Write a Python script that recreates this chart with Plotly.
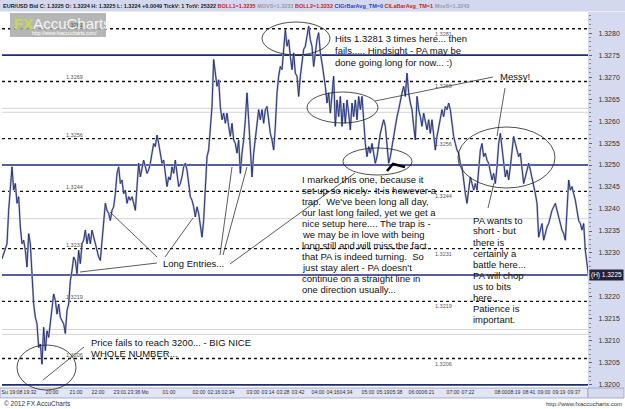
import plotly.graph_objects as go

# ---------------- data ----------------
price = [
    1.32287, 1.32298, 1.32310, 1.32321, 1.32397, 1.32458, 1.32496, 1.32443, 1.32458, 1.32413,
    1.32428, 1.32359, 1.32321, 1.32329, 1.32306, 1.32268, 1.32344, 1.32321, 1.32260, 1.32184,
    1.32154, 1.32139, 1.32085, 1.32093, 1.32047, 1.32131, 1.32078, 1.32123, 1.32108, 1.32146,
    1.32169, 1.32207, 1.32192, 1.32161, 1.32184, 1.32154, 1.32146, 1.32139, 1.32117, 1.32169,
    1.32184, 1.32237, 1.32260, 1.32291, 1.32283, 1.32253, 1.32306, 1.32276, 1.32321, 1.32329,
    1.32352, 1.32321, 1.32344, 1.32321, 1.32352, 1.32336, 1.32321, 1.32306, 1.32291, 1.32283,
    1.32329, 1.32367, 1.32413, 1.32397, 1.32390, 1.32374, 1.32397, 1.32405, 1.32435, 1.32481,
    1.32496, 1.32458, 1.32466, 1.32435, 1.32443, 1.32413, 1.32428, 1.32420, 1.32428, 1.32413,
    1.32397, 1.32451, 1.32504, 1.32473, 1.32489, 1.32511, 1.32496, 1.32481, 1.32489, 1.32504,
    1.32527, 1.32549, 1.32542, 1.32568, 1.32549, 1.32527, 1.32504, 1.32511, 1.32481, 1.32451,
    1.32473, 1.32466, 1.32496, 1.32481, 1.32511, 1.32473, 1.32451, 1.32458, 1.32473, 1.32496,
    1.32504, 1.32489, 1.32451, 1.32428, 1.32420, 1.32405, 1.32382, 1.32405, 1.32390, 1.32367,
    1.32336, 1.32374, 1.32435, 1.32519, 1.32534, 1.32580, 1.32633, 1.32740, 1.32702, 1.32679,
    1.32694, 1.32633, 1.32603, 1.32618, 1.32595, 1.32618, 1.32588, 1.32565, 1.32595, 1.32557,
    1.32549, 1.32527, 1.32557, 1.32481, 1.32527, 1.32557, 1.32603, 1.32664, 1.32603, 1.32549,
    1.32473, 1.32527, 1.32565, 1.32595, 1.32626, 1.32603, 1.32626, 1.32595, 1.32626, 1.32633,
    1.32595, 1.32572, 1.32557, 1.32534, 1.32588, 1.32664, 1.32702, 1.32724, 1.32717, 1.32755,
    1.32808, 1.32770, 1.32785, 1.32747, 1.32717, 1.32755, 1.32709, 1.32702, 1.32656, 1.32702,
    1.32740, 1.32763, 1.32770, 1.32793, 1.32816, 1.32785, 1.32770, 1.32724, 1.32755, 1.32785,
    1.32801, 1.32755, 1.32732, 1.32709, 1.32679, 1.32641, 1.32664, 1.32618, 1.32671, 1.32702,
    1.32588, 1.32648, 1.32610, 1.32656, 1.32588, 1.32641, 1.32595, 1.32648, 1.32618, 1.32580,
    1.32641, 1.32610, 1.32648, 1.32603, 1.32656, 1.32626, 1.32656, 1.32595, 1.32549, 1.32519,
    1.32542, 1.32527, 1.32549, 1.32527, 1.32504, 1.32519, 1.32549, 1.32572, 1.32588, 1.32603,
    1.32588, 1.32549, 1.32504, 1.32519, 1.32542, 1.32565, 1.32595, 1.32610, 1.32626, 1.32648,
    1.32664, 1.32679, 1.32656, 1.32709, 1.32664, 1.32641, 1.32626, 1.32588, 1.32557, 1.32656,
    1.32626, 1.32610, 1.32588, 1.32618, 1.32595, 1.32580, 1.32603, 1.32572, 1.32603, 1.32572,
    1.32534, 1.32565, 1.32588, 1.32603, 1.32626, 1.32610, 1.32633, 1.32626, 1.32641, 1.32626,
    1.32595, 1.32565, 1.32549, 1.32534, 1.32527, 1.32504, 1.32496, 1.32458, 1.32435, 1.32413,
    1.32451, 1.32473, 1.32458, 1.32443, 1.32458, 1.32443, 1.32489, 1.32534, 1.32549, 1.32519,
    1.32527, 1.32511, 1.32504, 1.32481, 1.32466, 1.32481, 1.32458, 1.32496, 1.32549, 1.32572,
    1.32534, 1.32504, 1.32473, 1.32489, 1.32466, 1.32496, 1.32527, 1.32565, 1.32549, 1.32534,
    1.32519, 1.32527, 1.32496, 1.32458, 1.32473, 1.32489, 1.32504, 1.32489, 1.32473, 1.32458,
    1.32435, 1.32413, 1.32336, 1.32352, 1.32367, 1.32329, 1.32344, 1.32359, 1.32367, 1.32382,
    1.32397, 1.32405, 1.32413, 1.32397, 1.32382, 1.32367, 1.32352, 1.32344, 1.32329, 1.32397,
    1.32466, 1.32443, 1.32451, 1.32435, 1.32420, 1.32397, 1.32374, 1.32367, 1.32352, 1.32367,
    1.32306, 1.32276, 1.32245,
]
bars = list(range(len(price)))

xtick_labels = ["Su 19:08", "19:32", "20:00", "21:00", "22:00", "23:01", "23:36", "Mo",
                "01:00", "02:00", "02:16", "02:34", "03:00", "03:14", "03:28", "03:42",
                "04:00", "04:16", "04:34", "05:00", "05:19", "05:38", "06:00", "06:21",
                "07:00", "07:22", "08:00", "08:19", "08:41", "09:00", "09:19", "09:37"]
xtick_bars = [6, 16.8, 30, 44.4, 57.6, 70.8, 79.2, 85.8, 100.2, 118.2, 127.2, 135.6,
              150.6, 159.6, 168.6, 177.6, 189.6, 198.6, 206.4, 219.6, 228.6, 236.4,
              247.8, 255.6, 270.6, 279.6, 299.4, 307.2, 316.2, 325.2, 334.2, 343.2]

ytick_vals = [1.3200, 1.3205, 1.3210, 1.3215, 1.3220, 1.3230, 1.3235, 1.3240,
              1.3245, 1.3250, 1.3255, 1.3260, 1.3265, 1.3270, 1.3275, 1.3280]

solid_levels = [1.3275, 1.3250, 1.3225, 1.3200]
dotted_levels = [1.3281, 1.3269, 1.3256, 1.3244, 1.3231, 1.3219, 1.3206]
band_levels = [1.32629, 1.32620, 1.32378, 1.32126, 1.32115]
last_price = 1.3225

# ---------------- layout helpers (pixel -> paper) ----------------
W, H = 625, 409
L, R, T, B = 2, 588, 12, 388


def PX(x):
    return (x - L) / (R - L)


def PY(y):
    return (B - y) / (B - T)


FONT = "Liberation Sans, Arial, sans-serif"
NAVY = "#1c2a78"

fig = go.Figure()
fig.add_trace(go.Scatter(x=bars, y=price, mode="lines",
                         line=dict(color="#aeb3c8", width=2.0), hoverinfo="skip"))
fig.add_trace(go.Scatter(x=bars, y=price, mode="lines",
                         line=dict(color=NAVY, width=0.9), hoverinfo="skip"))

shapes = []
ann = []

# backgrounds
shapes.append(dict(type="rect", xref="paper", yref="paper", x0=PX(0), x1=PX(W), y0=PY(11.5), y1=PY(0),
                   fillcolor="#d3d8ee", line=dict(width=0), layer="below"))
shapes.append(dict(type="rect", xref="paper", yref="paper", x0=PX(R), x1=PX(W), y0=PY(B), y1=PY(T),
                   fillcolor="#d6daf0", line=dict(width=0), layer="below"))
shapes.append(dict(type="rect", xref="paper", yref="paper", x0=PX(0), x1=PX(R), y0=PY(398), y1=PY(B),
                   fillcolor="#e2e5f2", line=dict(color="#9aa0bc", width=0.8), layer="below"))
shapes.append(dict(type="rect", xref="paper", yref="paper", x0=PX(R), x1=PX(W - 1), y0=PY(398), y1=PY(B),
                   fillcolor="#d6daf0", line=dict(color="#9aa0bc", width=0.8), layer="below"))

# level lines
for lv in band_levels:
    shapes.append(dict(type="line", xref="paper", yref="y", x0=0, x1=1, y0=lv, y1=lv,
                       line=dict(color="#d4d4d4", width=1), layer="below"))
for lv in dotted_levels:
    shapes.append(dict(type="line", xref="paper", yref="y", x0=0, x1=1, y0=lv, y1=lv,
                       line=dict(color="#111111", width=1.4, dash="dot"), layer="below"))
for lv in solid_levels:
    shapes.append(dict(type="line", xref="paper", yref="y", x0=0, x1=1, y0=lv, y1=lv,
                       line=dict(color=NAVY, width=1.6), layer="below"))

# level labels
for lv in dotted_levels:
    ann.append(dict(x=PX(64), xref="paper", y=lv, yref="y", yshift=4, text=f"{lv:.4f}",
                    showarrow=False, font=dict(size=5.5, color="#555", family=FONT)))
    ann.append(dict(x=PX(454), xref="paper", y=lv, yref="y", yshift=-5, text=f"{lv:.4f}",
                    showarrow=False, font=dict(size=5.5, color="#555", family=FONT)))

# ellipses
for (x0, y0, x1, y1) in [(262, 22, 330, 55), (307, 92, 378, 123), (343, 148, 412, 175),
                         (458, 127, 555, 188), (17, 345, 76, 390)]:
    shapes.append(dict(type="circle", xref="paper", yref="paper", x0=PX(x0), x1=PX(x1),
                       y0=PY(y1), y1=PY(y0), line=dict(color="#222", width=0.8)))

# pointer lines
for (x0, y0, x1, y1) in [(375, 101, 493, 77), (505, 88, 497, 136), (488, 208, 494, 183),
                         (157, 257, 110, 212), (165, 257, 193, 218), (80, 272, 157, 263),
                         (220, 255, 232, 167), (223, 255, 247, 167), (230, 264, 355, 173),
                         (43, 380, 84, 347)]:
    shapes.append(dict(type="line", xref="paper", yref="paper", x0=PX(x0), x1=PX(x1),
                       y0=PY(y0), y1=PY(y1), line=dict(color="#333", width=0.8)))

# caret mark
cpath = "M {:.5f},{:.5f} L {:.5f},{:.5f} L {:.5f},{:.5f}".format(PX(387), PY(171), PX(393), PY(164), PX(405), PY(167))
shapes.append(dict(type="path", xref="paper", yref="paper", path=cpath,
                   line=dict(color="#000", width=2.5)))

# logo
shapes.append(dict(type="rect", xref="paper", yref="paper", x0=PX(10), x1=PX(106), y0=PY(37), y1=PY(13),
                   fillcolor="#a9a9a9", opacity=0.85, line=dict(width=0)))
ann.append(dict(x=PX(12), y=PY(23), xref="paper", yref="paper", xanchor="left", yanchor="middle",
                showarrow=False,
                text="<b><span style='color:#cbd84a'>FX</span></b><span style='color:#f4f4f4'>AccuCharts</span>",
                font=dict(size=15, family=FONT)))
ann.append(dict(x=PX(30), y=PY(33), xref="paper", yref="paper", xanchor="left", yanchor="middle",
                showarrow=False, text="http://www.fxaccucharts.com/",
                font=dict(size=5, color="#ffffff", family=FONT)))

# header
hdr = ("<b>EUR/USD Bid C: 1.3225 O: 1.3224 H: 1.3225 L: 1.3224 +0.0049 TickV: 1 TotV: 25322 "
       "<span style='color:#cc2222'>BOLL1=1.3235</span> <span style='color:#9a9aaa'>MOVS=1.3233</span> "
       "<span style='color:#cc2222'>BOLL2=1.3232</span> <span style='color:#2244cc'>CIGrBarAvg_TM=0</span> "
       "<span style='color:#cc2222'>CILaBarAvg_TM=1</span> <span style='color:#9a9aaa'>MovS=1.3243</span></b>")
ann.append(dict(x=PX(1), y=PY(5.5), xref="paper", yref="paper", xanchor="left", yanchor="middle",
                showarrow=False, text=hdr, font=dict(size=5.5, color="#222", family=FONT)))

# comments


def text_block(x, y0, lines, step=11.2):
    for i, s in enumerate(lines):
        ann.append(dict(x=PX(x), y=PY(y0 + i * step), xref="paper", yref="paper", xanchor="left",
                        yanchor="middle", showarrow=False, text=s,
                        font=dict(size=9.5, color="#111", family=FONT)))


text_block(333, 39, ["Hits 1.3281 3 times here... then", "fails..... Hindsight - PA may be",
                     "done going long for now... :)"], step=11.5)
text_block(498, 76, ["Messy!"])
text_block(300, 179.5, ["I marked this one, because it", "set up so nicely.  It is however a",
                        "trap.  We've been long all day,", "our last long failed, yet we get a",
                        "nice setup here.... The trap is -", "we may be in love with being",
                        "long still and will miss the fact", "that PA is indeed turning.  So",
                        "just stay alert - PA doesn't", "continue on a straight line in",
                        "one direction usually..."], step=11)
text_block(161, 263, ["Long Entries..."])
text_block(89, 342, ["Price fails to reach 3200... - BIG NICE", "WHOLE NUMBER..."], step=11)
text_block(471, 220, ["PA wants to", "short - but", "there is", "certainly a", "battle here...",
                      "PA will chop", "us to bits", "here...", "Patience is", "important."], step=11)

# last price tag
ann.append(dict(x=PX(589), y=last_price, xref="paper", yref="y", xanchor="left", yanchor="middle",
                showarrow=False, text="(H) 1.3225", bgcolor="#22223a", borderpad=1,
                font=dict(size=6.5, color="#ffffff", family=FONT)))

# footer
ann.append(dict(x=PX(2), y=PY(403), xref="paper", yref="paper", xanchor="left", yanchor="middle",
                showarrow=False, text="© 2012 FX AccuCharts", font=dict(size=6.5, color="#333", family=FONT)))
ann.append(dict(x=PX(624), y=PY(404), xref="paper", yref="paper", xanchor="right", yanchor="middle",
                showarrow=False, text="http://www.fxaccucharts.com", font=dict(size=6, color="#333", family=FONT)))

fig.update_layout(
    width=W, height=H,
    margin=dict(l=L, r=W - R, t=T, b=H - B, pad=0),
    paper_bgcolor="white", plot_bgcolor="white",
    showlegend=False,
    shapes=shapes, annotations=ann,
    xaxis=dict(range=[0, 351.6], tickmode="array", tickvals=xtick_bars, ticktext=xtick_labels,
               tickangle=0, tickfont=dict(size=5.2, color="#333", family=FONT),
               showgrid=False, zeroline=False, showline=False, ticks=""),
    yaxis=dict(side="right", range=[1.31993, 1.32848], tickmode="array", tickvals=ytick_vals,
               ticktext=[f"{v:.4f}" for v in ytick_vals],
               tickfont=dict(size=7, color="#333", family=FONT), ticks="outside", ticklen=3,
               tickcolor="#666", showgrid=False, zeroline=False, showline=False,
               ticklabelstandoff=5,
               minor=dict(tickmode="linear", tick0=1.32, dtick=0.0001, ticks="outside", ticklen=2,
                          tickcolor="#888")),
)

fig.write_html("out.html")
